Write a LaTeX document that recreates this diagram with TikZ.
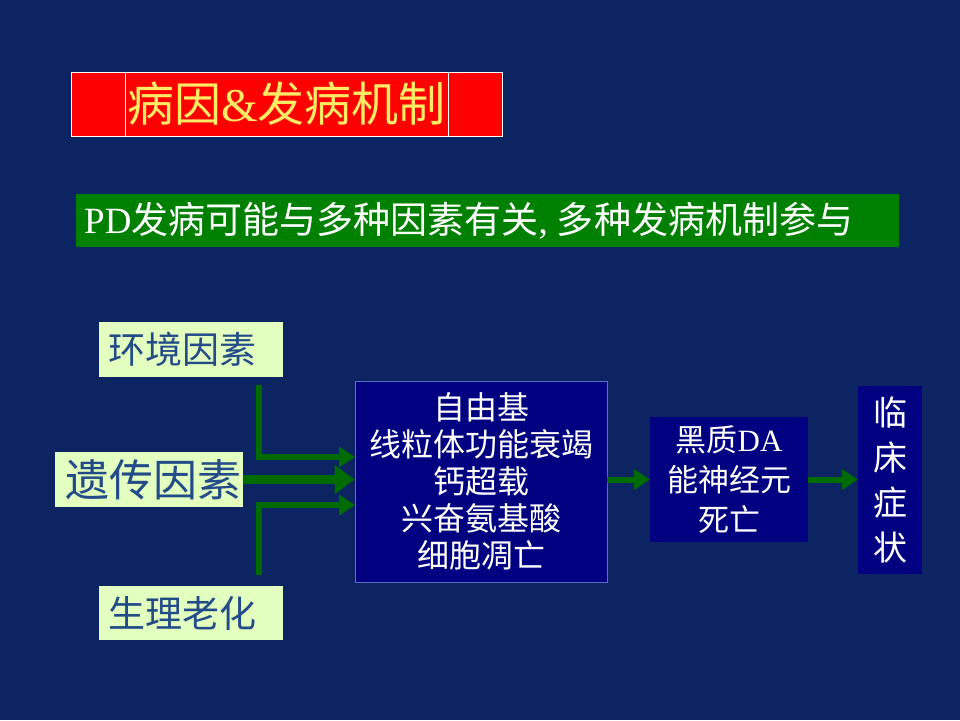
\documentclass[tikz,border=0pt]{standalone}
\usepackage{fontspec}
\setmainfont{Liberation Serif}
\newfontfamily\cjk{Noto Sans CJK SC}
\usetikzlibrary{arrows.meta}
\definecolor{bgblue}{RGB}{12,36,98}
\definecolor{boxnavy}{RGB}{0,0,128}
\definecolor{boxedge}{RGB}{90,110,200}
\definecolor{bargreen}{RGB}{0,128,0}
\definecolor{arrgreen}{RGB}{0,108,0}
\definecolor{palegreen}{RGB}{226,255,192}
\definecolor{causeblue}{RGB}{35,75,135}
\definecolor{titleyellow}{RGB}{255,236,100}
\tikzset{
  cause/.style={fill=palegreen, text=causeblue, inner ysep=0pt, align=left,
    font=\cjk\fontsize{37}{42}\selectfont},
  stage/.style={fill=boxnavy, text=white, align=center, inner sep=0pt},
  flow/.style={draw=arrgreen, line width=6pt, -{Triangle[length=16pt,width=20pt]}},
}
\begin{document}
\begin{tikzpicture}[x=1pt,y=-1pt]
  \fill[bgblue] (0,0) rectangle (960,720);
  % title
  \node[fill=red, draw=white, line width=1pt, minimum width=431pt, minimum height=64pt,
    inner sep=0pt, text=titleyellow, font=\fontsize{47}{52}\selectfont] (title) at (286.5,104)
    {{\cjk 病因}\&{\cjk 发病机制}};
  \draw[white, line width=1pt] (125,72) -- (125,136);
  \draw[white, line width=1pt] (448,72) -- (448,136);
  % statement
  \node[fill=bargreen, minimum width=823pt, minimum height=53pt, inner sep=0pt] (bar) at (487.5,220.5) {};
  \node[anchor=west, text=white, inner sep=0pt, font=\fontsize{37}{42}\selectfont] (claim) at (84,220.5)
    {PD{\cjk 发病可能与多种因素有关}, {\cjk 多种发病机制参与}};
  % causes
  \node[cause, inner xsep=9pt, text width=166pt, minimum height=55pt] (env) at (191,349.5) {环境因素};
  \node[cause, inner xsep=10pt, text width=168pt, minimum height=55pt, font=\cjk\fontsize{44}{48}\selectfont] (gene) at (149,479.5) {遗传因素};
  \node[cause, inner xsep=9pt, text width=166pt, minimum height=54pt] (aging) at (191,613) {生理老化};
  % stages
  \node[stage, draw=boxedge, line width=0.8pt, minimum width=252pt, minimum height=201pt,
    font=\cjk\fontsize{32}{37}\selectfont] (mech) at (481,481.5)
    {自由基\\线粒体功能衰竭\\钙超载\\兴奋氨基酸\\细胞凋亡};
  \node[stage, minimum width=158pt, minimum height=125pt, font=\fontsize{31}{40}\selectfont] (death) at (729,479.5)
    {{\cjk 黑质}DA\\{\cjk 能神经元}\\{\cjk 死亡}};
  \node[stage, minimum width=64pt, minimum height=188pt, font=\cjk\fontsize{34}{45}\selectfont] (sympt) at (890,480)
    {临\\床\\症\\状};
  % arrows
  \coordinate (envtap) at (259,385);
  \coordinate (agetap) at (259,575);
  \coordinate (envin) at (355,457);
  \coordinate (agein) at (355,505);
  \draw[flow] (envtap) |- (envin);
  \draw[flow] (agetap) |- (agein);
  \draw[flow, line width=9pt, -{Triangle[length=20pt,width=28pt]}] (gene.east) -- (mech.west |- gene.east);
  \draw[flow] (mech.east |- death.west) -- (death.west);
  \draw[flow] (death.east) -- (sympt.west |- death.east);
\end{tikzpicture}
\end{document}
